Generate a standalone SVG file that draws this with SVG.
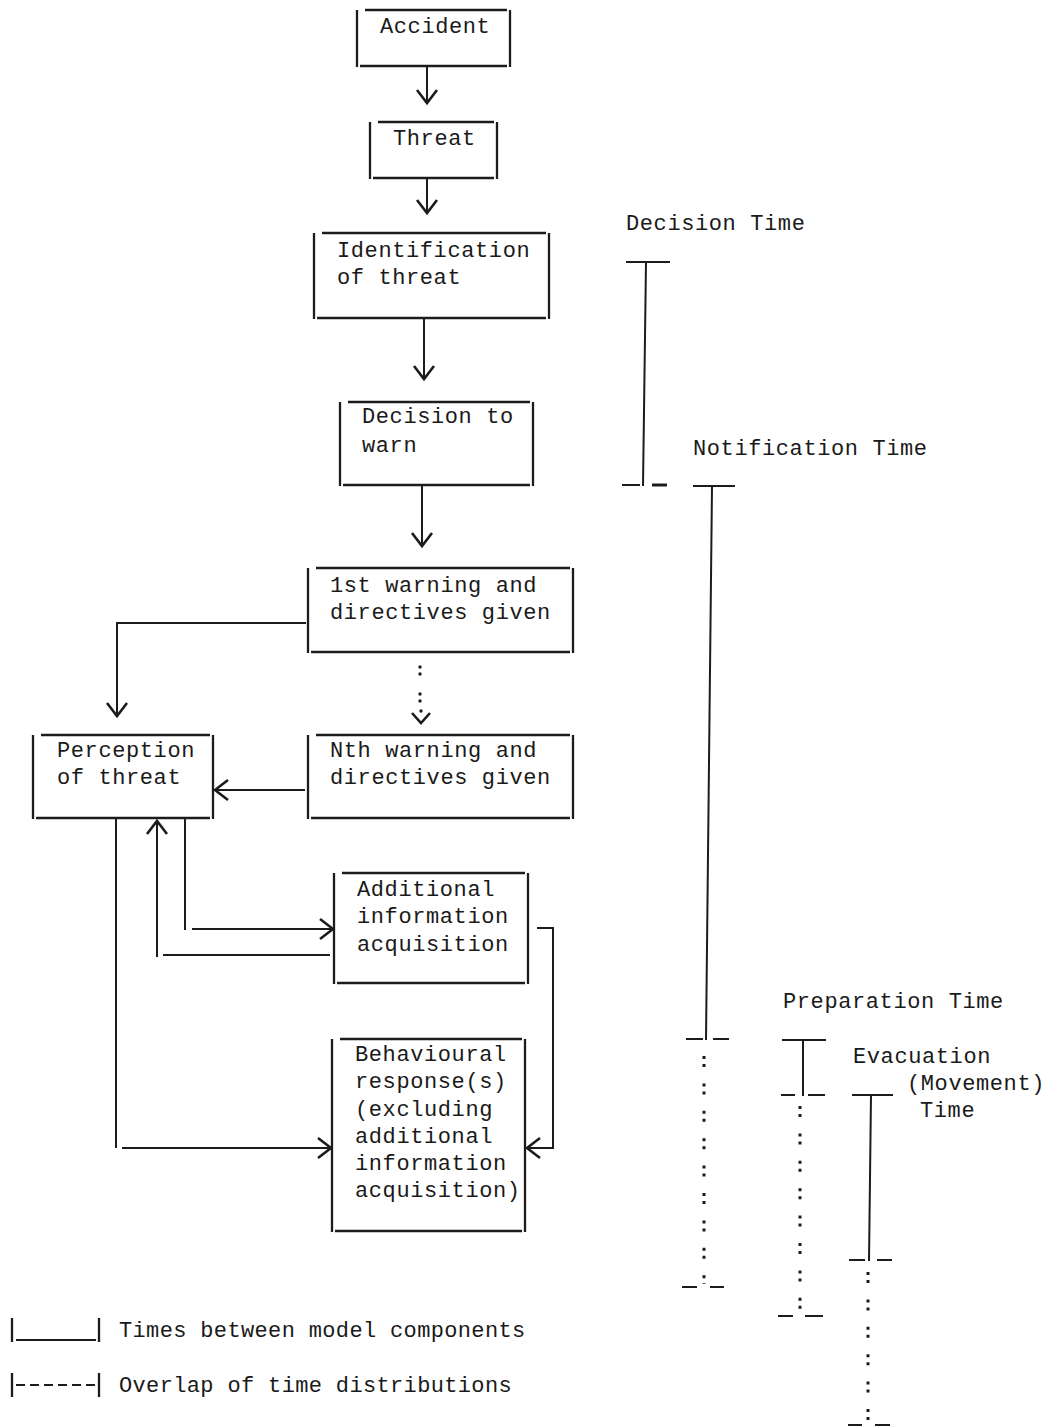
<svg xmlns="http://www.w3.org/2000/svg" width="1048" height="1427" viewBox="0 0 1048 1427">
  <defs>
    <style>
      .ln { stroke: #1c1c1c; stroke-width: 2; fill: none; }
      .box { stroke: #1c1c1c; stroke-width: 2.3; fill: none; }
      .tick { stroke: #1c1c1c; stroke-width: 2; fill: none; }
      .dots { stroke: #1c1c1c; stroke-width: 3; fill: none; stroke-dasharray: 3 5 3 16.4; }
      text { font-family: "Liberation Mono", "DejaVu Sans Mono", monospace; font-size: 22px; fill: #1a1a1a; letter-spacing: 0.6px; }
      .legend { letter-spacing: 0.35px; }
    </style>
    <!-- open typewriter-style chevron arrowhead -->
    <marker id="chev" markerUnits="userSpaceOnUse" markerWidth="30" markerHeight="30" refX="15" refY="15" orient="auto" overflow="visible">
      <path d="M2 5 L15 15 L2 25" fill="none" stroke="#1c1c1c" stroke-width="2.6"/>
    </marker>
  </defs>
  <rect width="1048" height="1427" fill="#ffffff"/>

  <!-- model components -->
  <g id="accident">
    <path class="box" d="M357 10 V67 M510 10 V67 M365 10 H507 M360 66 H507"/>
    <text x="380" y="33">Accident</text>
  </g>
  <g id="threat">
    <path class="box" d="M370 122 V179 M497 122 V179 M378 122 H494 M373 178 H494"/>
    <text x="393" y="145">Threat</text>
  </g>
  <g id="identification">
    <path class="box" d="M314 233 V319 M549 233 V319 M322 233 H546 M317 318 H546"/>
    <text x="337" y="257">Identification</text>
    <text x="337" y="284">of threat</text>
  </g>
  <g id="decision">
    <path class="box" d="M340 402 V486 M533 402 V486 M348 402 H530 M343 485 H530"/>
    <text x="362" y="423">Decision to</text>
    <text x="362" y="452">warn</text>
  </g>
  <g id="first-warning">
    <path class="box" d="M308 568 V653 M573 568 V653 M316 568 H570 M311 652 H570"/>
    <text x="330" y="592">1st warning and</text>
    <text x="330" y="619">directives given</text>
  </g>
  <g id="nth-warning">
    <path class="box" d="M308 735 V819 M573 735 V819 M316 735 H570 M311 818 H570"/>
    <text x="330" y="757">Nth warning and</text>
    <text x="330" y="784">directives given</text>
  </g>
  <g id="perception">
    <path class="box" d="M33 735 V819 M213 735 V819 M41 735 H210 M36 818 H210"/>
    <text x="57" y="757">Perception</text>
    <text x="57" y="784">of threat</text>
  </g>
  <g id="additional-info">
    <path class="box" d="M334 873 V984 M528 873 V984 M342 873 H525 M337 983 H525"/>
    <text x="357" y="896">Additional</text>
    <text x="357" y="923">information</text>
    <text x="357" y="951">acquisition</text>
  </g>
  <g id="behavioural">
    <path class="box" d="M332 1039 V1232 M525 1039 V1232 M340 1039 H522 M335 1231 H522"/>
    <text x="355" y="1061">Behavioural</text>
    <text x="355" y="1088">response(s)</text>
    <text x="355" y="1116">(excluding</text>
    <text x="355" y="1143">additional</text>
    <text x="355" y="1170">information</text>
    <text x="355" y="1197">acquisition)</text>
  </g>

  <!-- connectors -->
  <g id="connectors">
    <path class="ln" d="M427 67 V103" marker-end="url(#chev)"/>
    <path class="ln" d="M427 179 V213" marker-end="url(#chev)"/>
    <path class="ln" d="M424 319 V379" marker-end="url(#chev)"/>
    <path class="ln" d="M422 486 V546" marker-end="url(#chev)"/>
    <!-- 1st warning to perception -->
    <path class="ln" d="M306 623 H117 V716" marker-end="url(#chev)"/>
    <!-- dotted succession of warnings -->
    <g fill="#1c1c1c">
      <circle cx="420" cy="667" r="1.7"/>
      <circle cx="420" cy="674" r="1.7"/>
      <circle cx="420" cy="694" r="1.7"/>
      <circle cx="420" cy="701" r="1.7"/>
      <circle cx="421" cy="711" r="1.7"/>
    </g>
    <path d="M412 713 L421 723 L430 713" fill="none" stroke="#1c1c1c" stroke-width="2.6"/>
    <!-- nth warning to perception -->
    <path class="ln" d="M305 790 H215" marker-end="url(#chev)"/>
    <!-- perception to additional information -->
    <path class="ln" d="M185 819 V930 M192 929 H333" marker-end="url(#chev)"/>
    <!-- additional information back to perception -->
    <path class="ln" d="M330 955 H163 M157 957 V821" marker-end="url(#chev)"/>
    <!-- perception to behavioural response -->
    <path class="ln" d="M116 819 V1148 M122 1148 H331" marker-end="url(#chev)"/>
    <!-- additional information to behavioural response -->
    <path class="ln" d="M537 928 H553 V1148 H527" marker-end="url(#chev)"/>
  </g>

  <!-- time spans -->
  <g id="decision-time">
    <text x="626" y="230">Decision Time</text>
    <path class="tick" d="M626 262 H670"/>
    <path class="ln" d="M646 262 L643 486"/>
    <path class="tick" d="M622 485 H640"/>
    <path d="M652 485 H667" stroke="#1c1c1c" stroke-width="3"/>
  </g>
  <g id="notification-time">
    <text x="693" y="455">Notification Time</text>
    <path class="tick" d="M693 486 H735"/>
    <path class="ln" d="M712 486 L706 1040"/>
    <path class="tick" d="M686 1039 H703 M713 1039 H729"/>
    <path class="dots" d="M704 1056 V1284"/>
    <path class="tick" d="M682 1287 H697 M710 1287 H724"/>
  </g>
  <g id="preparation-time">
    <text x="783" y="1008">Preparation Time</text>
    <path class="tick" d="M782 1040 H826"/>
    <path class="ln" d="M803 1040 V1096"/>
    <path class="tick" d="M781 1095 H795 M808 1095 H825"/>
    <path class="dots" d="M800 1106 V1312"/>
    <path class="tick" d="M778 1316 H793 M805 1316 H823"/>
  </g>
  <g id="evacuation-time">
    <text x="853" y="1063">Evacuation</text>
    <text x="907" y="1090">(Movement)</text>
    <text x="920" y="1117">Time</text>
    <path class="tick" d="M852 1095 H893"/>
    <path class="ln" d="M871 1095 L869 1261"/>
    <path class="tick" d="M849 1260 H865 M877 1260 H892"/>
    <path class="dots" d="M868 1272 V1423"/>
    <path class="tick" d="M848 1425 H862 M875 1425 H890"/>
  </g>

  <!-- key -->
  <g id="legend">
    <path class="box" d="M12 1318 V1342 M99 1318 V1342"/>
    <path class="tick" d="M16 1340 H96"/>
    <text class="legend" x="119" y="1337">Times between model components</text>
    <path class="box" d="M12 1373 V1397 M99 1373 V1397"/>
    <path class="tick" d="M16 1385 H96" stroke-dasharray="9 5"/>
    <text class="legend" x="119" y="1392">Overlap of time distributions</text>
  </g>
</svg>
